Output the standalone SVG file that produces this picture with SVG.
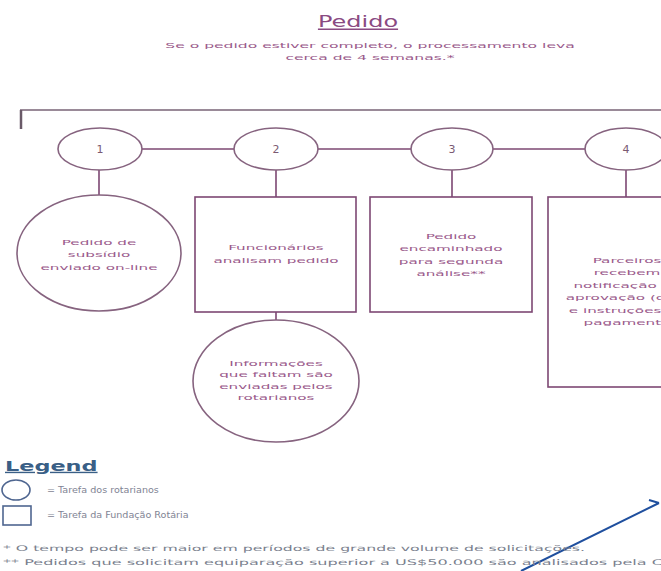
<svg xmlns="http://www.w3.org/2000/svg" width="661" height="571" viewBox="0 0 661 571">
<style>
.n{fill:#fff;stroke:#7d4873;stroke-width:1.6}
.e{fill:#fff;stroke:#86637f;stroke-width:1.6}
.c{fill:none;stroke:#7d4873;stroke-width:1.6}
.t{font-family:"DejaVu Sans",sans-serif;font-size:7.6px;fill:#9a5a8b;text-anchor:middle}
.num{font-family:"DejaVu Sans",sans-serif;font-size:11px;fill:#7a5a72;text-anchor:middle}
.lg{font-family:"DejaVu Sans",sans-serif;font-size:8px;fill:#7f8494}
.fn{font-family:"DejaVu Sans",sans-serif;font-size:7.8px;fill:#7a7f8e}
</style>
<rect width="661" height="571" fill="#fff"/>
<g id="header">
<text transform="translate(358,0) scale(1.6,1)" x="0" y="27" font-family="DejaVu Sans,sans-serif" font-size="15" fill="#8a4a82" text-anchor="middle" text-decoration="underline">Pedido</text>
<text class="t" transform="translate(370,0) scale(2.05,1)" fill="#8e5280"><tspan x="0" y="48">Se o pedido estiver completo, o processamento leva</tspan><tspan x="0" y="60">cerca de 4 semanas.*</tspan></text>
</g>
<g id="connectors">
<path d="M20 110H661" fill="none" stroke="#9a8a98" stroke-width="2"/>
<path d="M21 110V129" fill="none" stroke="#6a5a68" stroke-width="2.5"/>
<path class="c" d="M142 149H234M318 149H411M493 149H585"/>
<path class="c" d="M99 170V195M276 170V197M452 170V197M626 170V197M276 312V320"/>
<path d="M521 571L659 503M649 500L659 503" fill="none" stroke="#1f4f9e" stroke-width="2"/>
</g>
<g id="step1"><ellipse class="e" cx="100" cy="149" rx="42" ry="21"/><text class="num" x="100" y="153">1</text></g>
<g id="step2"><ellipse class="e" cx="276" cy="149" rx="42" ry="21"/><text class="num" x="276" y="153">2</text></g>
<g id="step3"><ellipse class="e" cx="452" cy="149" rx="41" ry="21"/><text class="num" x="452" y="153">3</text></g>
<g id="step4"><ellipse class="e" cx="626" cy="149" rx="41" ry="21"/><text class="num" x="626" y="153">4</text></g>
<g id="pedido-subsidio"><ellipse class="e" cx="99" cy="253" rx="82" ry="58"/>
<text class="t" transform="translate(99,0) scale(2,1)"><tspan x="0" y="245">Pedido de</tspan><tspan x="0" y="257.5">subsídio</tspan><tspan x="0" y="270">enviado on-line</tspan></text></g>
<g id="funcionarios"><rect class="n" x="195" y="197" width="161" height="115"/>
<text class="t" transform="translate(276,0) scale(2,1)"><tspan x="0" y="250">Funcionários</tspan><tspan x="0" y="263">analisam pedido</tspan></text></g>
<g id="segunda-analise"><rect class="n" x="370" y="197" width="162" height="115"/>
<text class="t" transform="translate(451,0) scale(2,1)"><tspan x="0" y="239">Pedido</tspan><tspan x="0" y="251.5">encaminhado</tspan><tspan x="0" y="264">para segunda</tspan><tspan x="0" y="276.5">análise**</tspan></text></g>
<g id="parceiros"><rect class="n" x="548" y="197" width="158" height="190"/>
<text class="t" transform="translate(627,0) scale(2,1)"><tspan x="0" y="263">Parceiros</tspan><tspan x="0" y="275.5">recebem</tspan><tspan x="0" y="288">notificação de</tspan><tspan x="0" y="300.5">aprovação (com</tspan><tspan x="0" y="313">e instruções de</tspan><tspan x="0" y="325.5">pagamento</tspan></text></g>
<g id="informacoes"><ellipse class="e" cx="276" cy="381" rx="83" ry="61"/>
<text class="t" transform="translate(276,0) scale(2,1)"><tspan x="0" y="366">Informações</tspan><tspan x="0" y="377.5">que faltam são</tspan><tspan x="0" y="389">enviadas pelos</tspan><tspan x="0" y="400.5">rotarianos</tspan></text></g>
<g id="legend">
<text transform="translate(5,0) scale(1.6,1)" x="0" y="471" font-family="DejaVu Sans,sans-serif" font-size="14" font-weight="bold" fill="#3a5f86" text-decoration="underline">Legend</text>
<ellipse cx="16" cy="490" rx="14" ry="10" fill="#fff" stroke="#4f6690" stroke-width="1.6"/>
<rect x="3" y="506" width="28" height="19" fill="#fff" stroke="#4f6690" stroke-width="1.6"/>
<text class="lg" transform="translate(47,0) scale(1.2,1)" x="0" y="493">= Tarefa dos rotarianos</text>
<text class="lg" transform="translate(47,0) scale(1.2,1)" x="0" y="518">= Tarefa da Fundação Rotária</text>
</g>
<g id="notes">
<text class="fn" x="3" y="551" textLength="582" lengthAdjust="spacingAndGlyphs">* O tempo pode ser maior em períodos de grande volume de solicitações.</text>
<text class="fn" x="3" y="565" textLength="660" lengthAdjust="spacingAndGlyphs">** Pedidos que solicitam equiparação superior a US$50.000 são analisados pela C</text>
</g>
</svg>
